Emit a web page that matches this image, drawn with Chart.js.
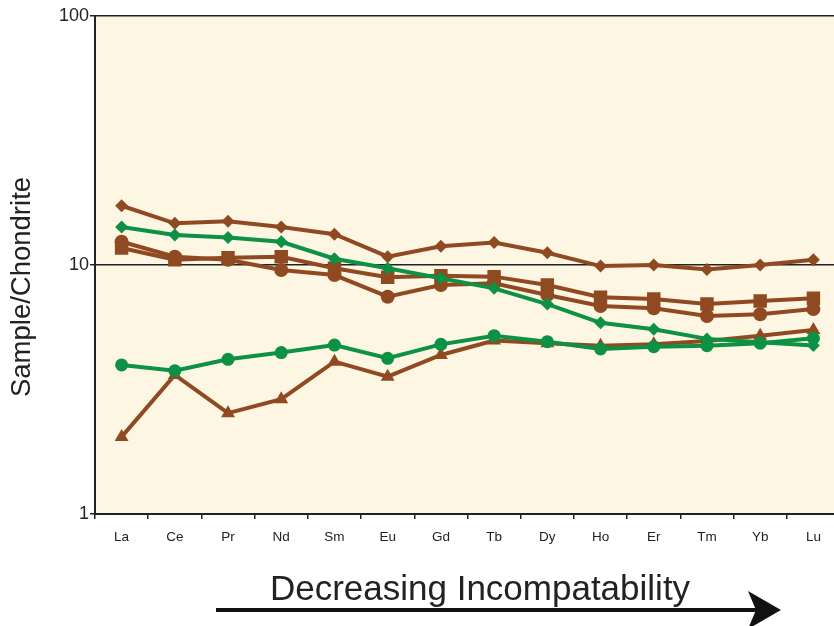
<!DOCTYPE html>
<html>
<head>
<meta charset="utf-8">
<script src="https://cdn.jsdelivr.net/npm/chart.js@4.4.1/dist/chart.umd.min.js"></script>
<style>
  html, body { margin: 0; padding: 0; background: #fff; overflow: hidden; }
  #wrap { width: 860px; height: 626px; position: relative; }
</style>
</head>
<body>
<div id="wrap"><canvas id="c"></canvas></div>
<script>
// Rare earth elements, ordered La → Lu
const elements = ['La','Ce','Pr','Nd','Sm','Eu','Gd','Tb','Dy','Ho','Er','Tm','Yb','Lu'];

// Chondrite-normalised abundances
const brownDiamond = [17.3, 14.7, 15.0, 14.2, 13.3, 10.8, 11.9, 12.3, 11.2, 9.9, 10.0, 9.6, 10.0, 10.5];
const brownSquare  = [11.7, 10.5, 10.7, 10.8, 9.7, 8.93, 9.06, 8.98, 8.31, 7.42, 7.30, 6.97, 7.17, 7.35];
const brownCircle  = [12.4, 10.8, 10.5, 9.55, 9.11, 7.46, 8.31, 8.45, 7.58, 6.84, 6.70, 6.24, 6.34, 6.66];
const brownTriangle= [2.04, 3.62, 2.54, 2.89, 4.09, 3.56, 4.35, 4.97, 4.85, 4.74, 4.80, 4.95, 5.20, 5.48];
const greenDiamond = [14.2, 13.2, 12.9, 12.4, 10.6, 9.7, 8.85, 8.06, 6.97, 5.86, 5.52, 5.05, 4.90, 4.75];
const greenCircle  = [3.97, 3.76, 4.18, 4.45, 4.77, 4.22, 4.80, 5.20, 4.92, 4.60, 4.70, 4.74, 4.85, 5.08];

const yTicks = [1, 10, 100];

const BROWN = '#8f4a22';
const GREEN = '#0d9145';
const INK = '#222222';

function series(data, color, style, radius) {
  return {
    data: data,
    borderColor: color,
    backgroundColor: color,
    borderWidth: 4,
    pointStyle: style,
    pointRadius: radius,
    pointBorderWidth: 0,
    pointBackgroundColor: color,
    tension: 0
  };
}

const decor = {
  id: 'decor',
  beforeDraw(chart) {
    const { ctx, chartArea: a } = chart;
    ctx.save();
    ctx.fillStyle = '#fcf6e2';
    ctx.fillRect(a.left, a.top, a.right - a.left, a.bottom - a.top);
    ctx.restore();
  },
  afterDraw(chart) {
    const ctx = chart.ctx;
    ctx.save();
    // y-axis title
    ctx.fillStyle = INK;
    ctx.font = '27.5px "Liberation Sans", Arial, sans-serif';
    ctx.textAlign = 'center';
    ctx.textBaseline = 'alphabetic';
    ctx.translate(30, 287);
    ctx.rotate(-Math.PI / 2);
    ctx.fillText('Sample/Chondrite', 0, 0);
    ctx.restore();

    ctx.save();
    ctx.fillStyle = INK;
    ctx.font = '35px "Liberation Sans", Arial, sans-serif';
    ctx.textAlign = 'center';
    ctx.textBaseline = 'alphabetic';
    ctx.fillText('Decreasing Incompatability', 480, 600);

    // direction arrow
    ctx.strokeStyle = '#111';
    ctx.lineWidth = 4;
    ctx.beginPath();
    ctx.moveTo(216, 610);
    ctx.lineTo(758, 610);
    ctx.stroke();
    ctx.fillStyle = '#111';
    ctx.beginPath();
    ctx.moveTo(781, 610);
    ctx.lineTo(748, 591);
    ctx.lineTo(756, 610);
    ctx.lineTo(748, 629);
    ctx.closePath();
    ctx.fill();
    ctx.restore();
  }
};

new Chart(document.getElementById('c'), {
  type: 'line',
  data: {
    labels: elements,
    datasets: [
      series(greenCircle, GREEN, 'circle', 6.5),
      series(greenDiamond, GREEN, 'rectRot', 6.5),
      series(brownTriangle, BROWN, 'triangle', 8),
      series(brownCircle, BROWN, 'circle', 7),
      series(brownSquare, BROWN, 'rect', 9.5),
      series(brownDiamond, BROWN, 'rectRot', 6.5)
    ]
  },
  plugins: [decor],
  options: {
    responsive: true,
    maintainAspectRatio: false,
    animation: false,
    layout: { padding: { top: 16, right: 20, left: 0, bottom: 0 } },
    plugins: { legend: { display: false }, tooltip: { enabled: false } },
    scales: {
      x: {
        type: 'category',
        offset: true,
        grid: { display: true, offset: true, drawOnChartArea: false, drawTicks: true, tickLength: 5, color: INK, lineWidth: 1.5 },
        border: { display: true, color: INK, width: 2 },
        ticks: { color: INK, font: { family: '"Liberation Sans", Arial, sans-serif', size: 13.5 }, padding: 10, maxRotation: 0, autoSkip: false },
        afterFit(s) { s.height = 112; }
      },
      y: {
        type: 'logarithmic',
        min: 1,
        max: 100,
        afterBuildTicks(s) { s.ticks = yTicks.map(v => ({ value: v })); },
        grid: { display: true, drawOnChartArea: true, drawTicks: true, tickLength: 5, color: INK, lineWidth: 1.5 },
        border: { display: true, color: INK, width: 2 },
        ticks: {
          color: INK,
          font: { family: '"Liberation Sans", Arial, sans-serif', size: 18 },
          padding: 1,
          callback: v => String(v)
        },
        afterFit(s) { s.width = 95; }
      }
    }
  }
});
</script>
</body>
</html>
